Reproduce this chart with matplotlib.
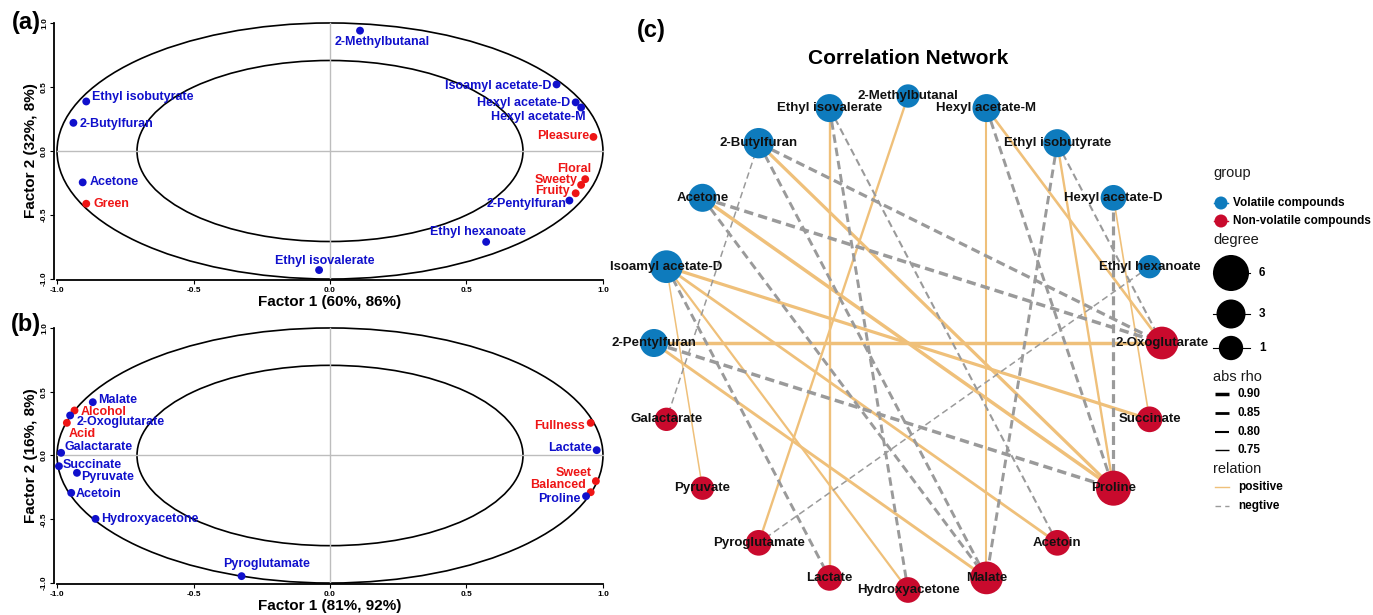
import matplotlib.pyplot as plt
import numpy as np
from matplotlib.patches import Ellipse, Circle

plt.rcParams['font.family'] = ['Liberation Sans', 'DejaVu Sans']
plt.rcParams['lines.scale_dashes'] = False

# ---------------- data: panel (a) volatile compounds + sensory ----------------
a_names = ['2-Methylbutanal', 'Isoamyl acetate-D', 'Hexyl acetate-D', 'Hexyl acetate-M',
           'Pleasure', 'Floral', 'Sweety', 'Fruity', '2-Pentylfuran', 'Ethyl hexanoate',
           'Ethyl isovalerate', 'Ethyl isobutyrate', '2-Butylfuran', 'Acetone', 'Green']
a_f1 = [0.11, 0.83, 0.90, 0.92, 0.965, 0.935, 0.92, 0.90, 0.877, 0.572,
        -0.04, -0.893, -0.94, -0.906, -0.893]
a_f2 = [0.94, 0.52, 0.38, 0.34, 0.11, -0.22, -0.265, -0.33, -0.387, -0.71,
        -0.93, 0.387, 0.22, -0.245, -0.412]
a_sensory = [0, 0, 0, 0, 1, 1, 1, 1, 0, 0, 0, 0, 0, 0, 1]

# ---------------- data: panel (b) non-volatile compounds + sensory ----------------
b_names = ['Malate', 'Alcohol', '2-Oxoglutarate', 'Acid', 'Galactarate', 'Succinate',
           'Pyruvate', 'Acetoin', 'Hydroxyacetone', 'Pyroglutamate', 'Fullness',
           'Lactate', 'Sweet', 'Balanced', 'Proline']
b_f1 = [-0.869, -0.936, -0.952, -0.964, -0.985, -0.993, -0.927, -0.948, -0.859, -0.324,
        0.955, 0.977, 0.974, 0.955, 0.938]
b_f2 = [0.418, 0.353, 0.314, 0.256, 0.021, -0.084, -0.136, -0.293, -0.497, -0.946,
        0.256, 0.042, -0.201, -0.288, -0.319]
b_sensory = [0, 1, 0, 1, 0, 0, 0, 0, 0, 0, 1, 0, 1, 1, 0]

# label placement (offset from point, alignment)
a_lab = [(0.08, -0.09, 'center'), (-0.02, -0.01, 'right'), (-0.02, -0.006, 'right'),
         (0.018, -0.077, 'right'), (-0.016, 0.006, 'right'), (0.022, 0.078, 'right'),
         (-0.011, 0.038, 'right'), (-0.02, 0.016, 'right'), (-0.009, -0.025, 'right'),
         (-0.03, 0.078, 'center'), (0.022, 0.072, 'center'), (0.022, 0.031, 'left'),
         (0.022, -0.008, 'left'), (0.025, 0.0, 'left'), (0.026, 0.0, 'left')]
b_lab = [(0.019, 0.021, 'left'), (0.023, -0.011, 'left'), (0.025, -0.053, 'left'),
         (0.008, -0.091, 'left'), (0.011, 0.044, 'left'), (0.015, 0.013, 'left'),
         (0.014, -0.031, 'left'), (0.018, -0.007, 'left'), (0.022, 0.0, 'left'),
         (0.091, 0.099, 'center'), (-0.022, -0.021, 'right'), (-0.019, 0.013, 'right'),
         (-0.016, 0.065, 'right'), (-0.019, 0.053, 'right'), (-0.019, -0.021, 'right')]

# ---------------- data: correlation network ----------------
nodes = ['2-Methylbutanal', 'Ethyl isovalerate', '2-Butylfuran', 'Acetone',
         'Isoamyl acetate-D', '2-Pentylfuran', 'Galactarate', 'Pyruvate',
         'Pyroglutamate', 'Lactate', 'Hydroxyacetone', 'Malate', 'Acetoin', 'Proline',
         'Succinate', '2-Oxoglutarate', 'Ethyl hexanoate', 'Hexyl acetate-D',
         'Ethyl isobutyrate', 'Hexyl acetate-M']
volatile = ['2-Methylbutanal', 'Ethyl isovalerate', '2-Butylfuran', 'Acetone',
            'Isoamyl acetate-D', '2-Pentylfuran', 'Ethyl hexanoate', 'Hexyl acetate-D',
            'Ethyl isobutyrate', 'Hexyl acetate-M']
edge_from = ['Ethyl isovalerate', '2-Methylbutanal', 'Hexyl acetate-M', 'Hexyl acetate-M',
             '2-Butylfuran', 'Acetone', 'Ethyl isobutyrate', 'Hexyl acetate-D',
             '2-Pentylfuran', '2-Pentylfuran', 'Isoamyl acetate-D', 'Isoamyl acetate-D',
             'Isoamyl acetate-D', 'Isoamyl acetate-D',
             'Ethyl isovalerate', 'Ethyl isovalerate', 'Hexyl acetate-M', 'Ethyl isobutyrate',
             'Ethyl isobutyrate', 'Hexyl acetate-D', '2-Butylfuran', '2-Butylfuran',
             '2-Butylfuran', 'Acetone', 'Acetone', '2-Pentylfuran', 'Isoamyl acetate-D',
             'Ethyl hexanoate']
edge_to = ['Lactate', 'Pyroglutamate', 'Malate', '2-Oxoglutarate',
           'Proline', 'Proline', 'Proline', 'Succinate',
           '2-Oxoglutarate', 'Malate', 'Pyruvate', 'Succinate',
           'Hydroxyacetone', 'Acetoin',
           'Hydroxyacetone', 'Acetoin', 'Proline', 'Malate',
           '2-Oxoglutarate', 'Proline', '2-Oxoglutarate', 'Malate',
           'Galactarate', '2-Oxoglutarate', 'Malate', 'Proline', 'Lactate',
           'Pyroglutamate']
edge_rho = [0.82, 0.82, 0.80, 0.84, 0.88, 0.90, 0.82, 0.77, 0.90, 0.86, 0.76, 0.88,
            0.81, 0.85,
            -0.86, -0.80, -0.86, -0.86, -0.80, -0.88, -0.88, -0.86, -0.76, -0.90,
            -0.86, -0.90, -0.86, -0.76]

BLUE_PT = '#1010CC'
RED_PT = '#EE1515'
NODE_BLUE = '#0E7BBD'
NODE_RED = '#C90A2D'
POS = '#EFC07A'
NEG = '#9A9A9A'

W, H = 1373, 615
fig = plt.figure(figsize=(W / 100, H / 100), dpi=100)


def px_axes(x0, x1, ytop, ybot):
    return fig.add_axes([x0 / W, 1 - ybot / H, (x1 - x0) / W, (ybot - ytop) / H])


def corr_panel(ax, names, f1, f2, sens, labs, xlab, ylab):
    ax.add_patch(Ellipse((0, 0), 2, 2, fill=False, ec='black', lw=1.2, clip_on=False))
    ax.add_patch(Ellipse((0, 0), 1.414, 1.414, fill=False, ec='black', lw=1.2))
    ax.plot([-1, 1], [0, 0], color='#BDBDBD', lw=1.0, zorder=1)
    ax.plot([0, 0], [-1, 1], color='#BDBDBD', lw=1.0, zorder=1)
    cols = [RED_PT if s else BLUE_PT for s in sens]
    ax.scatter(f1, f2, c=cols, s=32, zorder=3, clip_on=False, linewidths=0)
    for n, x, y, s, (dx, dy, ha) in zip(names, f1, f2, sens, labs):
        ax.text(x + dx, y + dy, n, color=RED_PT if s else BLUE_PT, ha=ha, va='center',
                fontsize=9, fontweight='bold', zorder=4)
    ax.set_xlim(-1.01, 1.01)
    ax.set_ylim(-1.01, 1.01)
    for sp in ['top', 'right']:
        ax.spines[sp].set_visible(False)
    for sp in ['left', 'bottom']:
        ax.spines[sp].set_bounds(-1, 1)
        ax.spines[sp].set_linewidth(1.3)
    ticks = [-1, -0.5, 0, 0.5, 1]
    tl = ['-1.0', '-0.5', '0.0', '0.5', '1.0']
    ax.set_xticks(ticks)
    ax.set_xticklabels(tl, fontsize=6, fontweight='bold')
    ax.set_yticks(ticks)
    ax.set_yticklabels(tl, fontsize=6, fontweight='bold', rotation=90, va='center')
    ax.tick_params(length=3, width=0.8, pad=1.5)
    ax.set_xlabel(xlab, fontsize=11, fontweight='bold', labelpad=1)
    ax.set_ylabel(ylab, fontsize=11, fontweight='bold', labelpad=2)


# ---------------- network (pixel coordinate axes) ----------------
axn = fig.add_axes([0, 0, 1, 1])
axn.set_xlim(0, W)
axn.set_ylim(H, 0)
axn.axis('off')
axn.patch.set_visible(False)

cx, cy, rx, ry = 908, 343, 254, 247
ang = np.deg2rad(90 + 18 * np.arange(len(nodes)))
pos = {n: (cx + rx * np.cos(a), cy - ry * np.sin(a)) for n, a in zip(nodes, ang)}

deg = {n: 0 for n in nodes}
for s, t in zip(edge_from, edge_to):
    deg[s] += 1
    deg[t] += 1


def node_r(d):
    return 10.5 + 1.17 * d


def edge_lw(r):
    return 1.0 + (abs(r) - 0.75) / 0.15 * 1.5


def edge_dash(lw):
    return (3 + 1.5 * lw, 2 + 0.7 * lw)


for s, t, r in zip(edge_from, edge_to, edge_rho):
    (x0, y0), (x1, y1) = pos[s], pos[t]
    lw = edge_lw(r)
    if r > 0:
        axn.plot([x0, x1], [y0, y1], color=POS, lw=lw, zorder=1, solid_capstyle='butt')
    else:
        axn.plot([x0, x1], [y0, y1], color=NEG, lw=lw, zorder=1,
                 dashes=edge_dash(lw), dash_capstyle='butt')

for n in nodes:
    x, y = pos[n]
    axn.add_patch(Circle((x, y), node_r(deg[n]), color=NODE_BLUE if n in volatile else NODE_RED,
                         zorder=2, lw=0))
    axn.text(x, y, n, ha='center', va='center', fontsize=9.5, fontweight='bold',
             color='#111111', zorder=3)

axn.text(908, 58, 'Correlation Network', ha='center', va='center', fontsize=15,
         fontweight='bold')
axn.text(651, 30, '(c)', ha='center', va='center', fontsize=17, fontweight='bold')

# legend
lx = 1213
for t, y in [('group', 173), ('degree', 240), ('abs rho', 377), ('relation', 469)]:
    axn.text(lx, y, t, ha='left', va='center', fontsize=10.5, color='#1a1a1a')
for lab, col, y in [('Volatile compounds', NODE_BLUE, 203),
                    ('Non-volatile compounds', NODE_RED, 221)]:
    axn.plot([1214, 1228], [y, y], color=col, lw=1.0, zorder=2)
    axn.add_patch(Circle((1221, y), 6.5, color=col, lw=0, zorder=3))
    axn.text(1233, y, lab, ha='left', va='center', fontsize=8.5, fontweight='bold')
for d, y in [(6, 273), (3, 314), (1, 348)]:
    axn.plot([1213, 1250], [y, y], color='black', lw=0.8, zorder=2)
    axn.add_patch(Circle((1231, y), node_r(d) + 0.5, color='black', lw=0, zorder=3))
    axn.text(1259, y, str(d), ha='left', va='center', fontsize=8.5, fontweight='bold')
for r, y in [(0.90, 394), (0.85, 413), (0.80, 432), (0.75, 450)]:
    axn.plot([1215, 1229], [y, y], color='black', lw=edge_lw(r), solid_capstyle='butt')
    axn.text(1238, y, '%.2f' % r, ha='left', va='center', fontsize=8.5, fontweight='bold')
axn.plot([1215, 1229], [487, 487], color=POS, lw=1.0)
axn.plot([1215, 1229], [506, 506], color=NEG, lw=1.0, dashes=(4, 3))
axn.text(1238, 487, 'positive', ha='left', va='center', fontsize=8.5, fontweight='bold')
axn.text(1238, 506, 'negtive', ha='left', va='center', fontsize=8.5, fontweight='bold')

# ---------------- correlation circle panels ----------------
ax_a = px_axes(54.3, 605.7, 21.7, 280.3)
corr_panel(ax_a, a_names, a_f1, a_f2, a_sensory, a_lab,
           'Factor 1 (60%, 86%)', 'Factor 2 (32%, 8%)')
ax_b = px_axes(54.3, 605.7, 326.7, 584.3)
corr_panel(ax_b, b_names, b_f1, b_f2, b_sensory, b_lab,
           'Factor 1 (81%, 92%)', 'Factor 2 (16%, 8%)')
fig.text(26 / W, 1 - 22 / H, '(a)', ha='center', va='center', fontsize=17, fontweight='bold')
fig.text(26 / W, 1 - 325 / H, '(b)', ha='center', va='center', fontsize=17, fontweight='bold')

fig.savefig('out.png', dpi=100)
